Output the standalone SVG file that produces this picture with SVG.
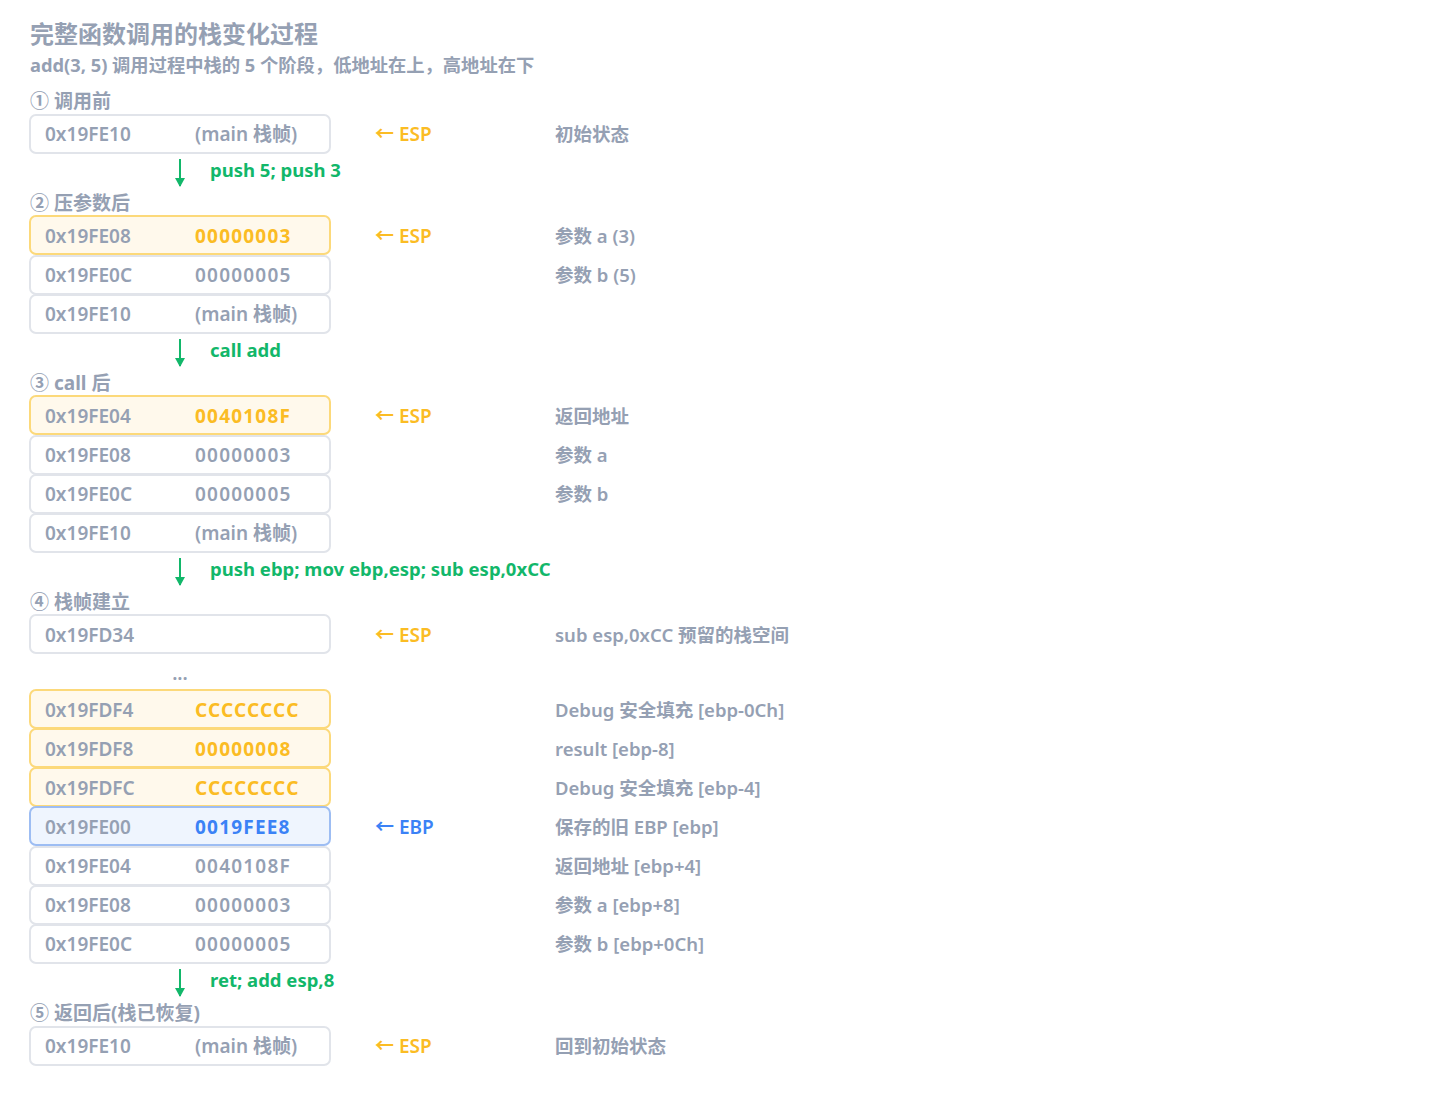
<svg xmlns="http://www.w3.org/2000/svg" width="1440" height="1101" viewBox="0 0 1440 1101">
<defs>
<style>
text{font-family:"Noto Sans","Noto Sans CJK SC",sans-serif;font-weight:600;fill:#95a0b3}
.t{font-size:24px;font-weight:700}
.s{font-size:18.3px;font-weight:700}
.h{font-size:19px;font-weight:700}
.b{font-size:19px}
.v{font-size:19px;letter-spacing:1.2px}
.d{font-size:18.5px}
.box{fill:#ffffff;stroke:#e1e4ea;stroke-width:2}
.ob{fill:#fff9ec;stroke:#fcd97a;stroke-width:2}
.bb{fill:#eff5fe;stroke:#9dbdf3;stroke-width:2}
.ov{fill:#fbbc24;font-weight:700}
.bv{fill:#3b82f6;font-weight:700}
.esp{fill:#fbbc24;font-size:19px}
.ebp{fill:#3b82f6;font-size:19px}
.g{fill:#12b76a;font-size:18.5px;font-weight:700}
.ar{stroke:#12b76a;stroke-width:2;fill:none}
</style>
<marker id="ah" markerWidth="10" markerHeight="10" refX="8" refY="5" orient="auto" markerUnits="userSpaceOnUse" viewBox="0 0 10 10">
<path d="M0,0 L9,5 L0,10 Z" fill="#12b76a"/>
</marker>
</defs>
<rect width="1440" height="1101" fill="#ffffff"/>
<g id="title">
<text class="t" x="30" y="43">完整函数调用的栈变化过程</text>
<text class="s" x="30" y="72">add(3, 5) 调用过程中栈的 5 个阶段，低地址在上，高地址在下</text>
</g>

<g id="stage1">
<text class="h" x="30" y="108">① 调用前</text>
<g id="s1r1"><rect class="box" x="30" y="115" width="300" height="38" rx="6"/><text class="b" x="45" y="141">0x19FE10</text><text class="b" x="195" y="141">(main 栈帧)</text><text class="esp" x="375" y="141">← ESP</text><text class="d" x="555" y="141">初始状态</text></g>
</g>

<g id="stage2">
<text class="h" x="30" y="210">② 压参数后</text>
<g id="s2r1"><rect class="ob" x="30" y="216" width="300" height="38" rx="6"/><text class="b" x="45" y="243">0x19FE08</text><text class="v ov" x="195" y="243">00000003</text><text class="esp" x="375" y="243">← ESP</text><text class="d" x="555" y="243">参数 a (3)</text></g>
<g id="s2r2"><rect class="box" x="30" y="256" width="300" height="38" rx="6"/><text class="b" x="45" y="282">0x19FE0C</text><text class="v" x="195" y="282">00000005</text><text class="d" x="555" y="282">参数 b (5)</text></g>
<g id="s2r3"><rect class="box" x="30" y="295" width="300" height="38" rx="6"/><text class="b" x="45" y="321">0x19FE10</text><text class="b" x="195" y="321">(main 栈帧)</text></g>
</g>

<g id="stage3">
<text class="h" x="30" y="390">③ call 后</text>
<g id="s3r1"><rect class="ob" x="30" y="396" width="300" height="38" rx="6"/><text class="b" x="45" y="423">0x19FE04</text><text class="v ov" x="195" y="423">0040108F</text><text class="esp" x="375" y="423">← ESP</text><text class="d" x="555" y="423">返回地址</text></g>
<g id="s3r2"><rect class="box" x="30" y="436" width="300" height="38" rx="6"/><text class="b" x="45" y="462">0x19FE08</text><text class="v" x="195" y="462">00000003</text><text class="d" x="555" y="462">参数 a</text></g>
<g id="s3r3"><rect class="box" x="30" y="475" width="300" height="38" rx="6"/><text class="b" x="45" y="501">0x19FE0C</text><text class="v" x="195" y="501">00000005</text><text class="d" x="555" y="501">参数 b</text></g>
<g id="s3r4"><rect class="box" x="30" y="514" width="300" height="38" rx="6"/><text class="b" x="45" y="540">0x19FE10</text><text class="b" x="195" y="540">(main 栈帧)</text></g>
</g>

<g id="stage4">
<text class="h" x="30" y="609">④ 栈帧建立</text>
<g id="s4r0"><rect class="box" x="30" y="615" width="300" height="38" rx="6"/><text class="b" x="45" y="642">0x19FD34</text><text class="esp" x="375" y="642">← ESP</text><text class="d" x="555" y="642">sub esp,0xCC 预留的栈空间</text></g>
<text class="b" x="180" y="680" text-anchor="middle">...</text>
<g id="s4r1"><rect class="ob" x="30" y="690" width="300" height="38" rx="6"/><text class="b" x="45" y="717">0x19FDF4</text><text class="v ov" x="195" y="717">CCCCCCCC</text><text class="d" x="555" y="717">Debug 安全填充 [ebp-0Ch]</text></g>
<g id="s4r2"><rect class="ob" x="30" y="729" width="300" height="38" rx="6"/><text class="b" x="45" y="756">0x19FDF8</text><text class="v ov" x="195" y="756">00000008</text><text class="d" x="555" y="756">result [ebp-8]</text></g>
<g id="s4r3"><rect class="ob" x="30" y="768" width="300" height="38" rx="6"/><text class="b" x="45" y="795">0x19FDFC</text><text class="v ov" x="195" y="795">CCCCCCCC</text><text class="d" x="555" y="795">Debug 安全填充 [ebp-4]</text></g>
<g id="s4r4"><rect class="bb" x="30" y="807" width="300" height="38" rx="6"/><text class="b" x="45" y="834">0x19FE00</text><text class="v bv" x="195" y="834">0019FEE8</text><text class="ebp" x="375" y="834">← EBP</text><text class="d" x="555" y="834">保存的旧 EBP [ebp]</text></g>
<g id="s4r5"><rect class="box" x="30" y="847" width="300" height="38" rx="6"/><text class="b" x="45" y="873">0x19FE04</text><text class="v" x="195" y="873">0040108F</text><text class="d" x="555" y="873">返回地址 [ebp+4]</text></g>
<g id="s4r6"><rect class="box" x="30" y="886" width="300" height="38" rx="6"/><text class="b" x="45" y="912">0x19FE08</text><text class="v" x="195" y="912">00000003</text><text class="d" x="555" y="912">参数 a [ebp+8]</text></g>
<g id="s4r7"><rect class="box" x="30" y="925" width="300" height="38" rx="6"/><text class="b" x="45" y="951">0x19FE0C</text><text class="v" x="195" y="951">00000005</text><text class="d" x="555" y="951">参数 b [ebp+0Ch]</text></g>
</g>

<g id="stage5">
<text class="h" x="30" y="1020">⑤ 返回后(栈已恢复)</text>
<g id="s5r1"><rect class="box" x="30" y="1027" width="300" height="38" rx="6"/><text class="b" x="45" y="1053">0x19FE10</text><text class="b" x="195" y="1053">(main 栈帧)</text><text class="esp" x="375" y="1053">← ESP</text><text class="d" x="555" y="1053">回到初始状态</text></g>
</g>

<g id="connectors">
<line class="ar" x1="180" y1="159" x2="180" y2="186" marker-end="url(#ah)"/>
<text class="g" x="210" y="177">push 5; push 3</text>
<line class="ar" x1="180" y1="339" x2="180" y2="366" marker-end="url(#ah)"/>
<text class="g" x="210" y="357">call add</text>
<line class="ar" x1="180" y1="558" x2="180" y2="585" marker-end="url(#ah)"/>
<text class="g" x="210" y="576">push ebp; mov ebp,esp; sub esp,0xCC</text>
<line class="ar" x1="180" y1="969" x2="180" y2="996" marker-end="url(#ah)"/>
<text class="g" x="210" y="987">ret; add esp,8</text>
</g>
</svg>
